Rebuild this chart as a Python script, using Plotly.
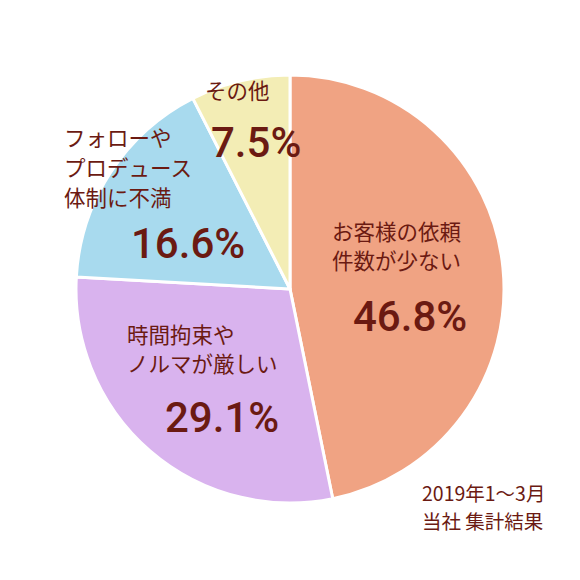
import plotly.graph_objects as go

labels = ["お客様の依頼件数が少ない", "時間拘束やノルマが厳しい", "フォローやプロデュース体制に不満", "その他"]
values = [46.8, 29.1, 16.6, 7.5]
colors = ["#F0A383", "#D9B3EE", "#A8DAEE", "#F3EDB5"]
# label lines shown inside each slice
label_lines = [
    ["お客様の依頼", "件数が少ない"],
    ["時間拘束や", "ノルマが厳しい"],
    ["フォローや", "プロデュース", "体制に不満"],
    ["その他"],
]
note_lines = ["2019年1〜3月", "当社 集計結果"]

text_color = "#6B1A12"
font_jp = "Noto Sans CJK JP"
W = H = 580
OFF = 8  # page body margin

fig = go.Figure()
fig.add_trace(go.Pie(
    labels=labels, values=values, sort=False, direction="clockwise", rotation=0,
    marker=dict(colors=colors, line=dict(color="white", width=3)),
    textinfo="none", hoverinfo="label+percent", showlegend=False,
    domain=dict(x=[(75 - OFF) / W, (505 - OFF) / W], y=[1 - (503 - OFF) / H, 1 - (75 - OFF) / H]),
))

# (x, y of first line, anchor) for name text; (x, y) for percent
name_pos = [(330, 230, "left"), (125, 333, "left"), (62, 137, "left"), (203, 90, "left")]
pct_pos = [(410, 316), (222, 417), (188, 244), (256, 143)]

def px(x, y):
    return (x - OFF) / W, 1 - (y - OFF) / H

annotations = []
for lines, (x, y, anchor) in zip(label_lines, name_pos):
    for i, line in enumerate(lines):
        ax, ay = px(x, y + 29.5 * i)
        annotations.append(dict(x=ax, y=ay, xref="paper", yref="paper", text=line,
                                showarrow=False, xanchor=anchor, yanchor="middle",
                                font=dict(family=font_jp, size=21.5, color=text_color)))
for v, (x, y) in zip(values, pct_pos):
    ax, ay = px(x, y)
    annotations.append(dict(x=ax, y=ay, xref="paper", yref="paper", text="%.1f%%" % v,
                            showarrow=False, xanchor="center", yanchor="middle",
                            font=dict(family="Roboto", size=42, weight=500, color=text_color)))
for i, line in enumerate(note_lines):
    ax, ay = px(420, 492 + 28 * i)
    annotations.append(dict(x=ax, y=ay, xref="paper", yref="paper", text=line,
                            showarrow=False, xanchor="left", yanchor="middle",
                            font=dict(family=font_jp, size=19.5, color=text_color)))

fig.update_layout(width=W, height=H, margin=dict(l=0, r=0, t=0, b=0),
                  paper_bgcolor="white", plot_bgcolor="white", annotations=annotations)

fig.write_html("out.html")
